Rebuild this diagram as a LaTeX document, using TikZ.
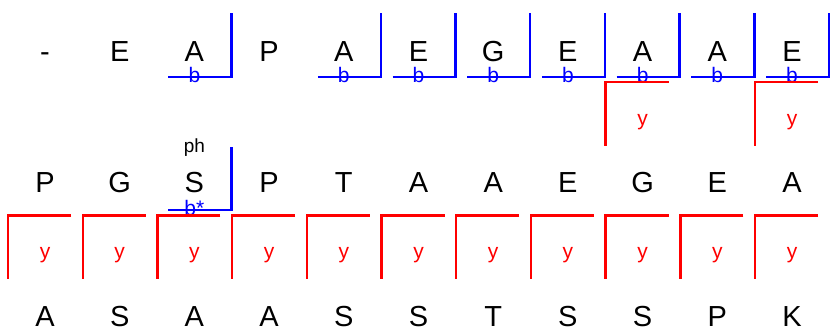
\documentclass[tikz,border=0pt]{standalone}
\usepackage{fontspec}
\setmainfont{Liberation Sans}
\usetikzlibrary{calc}
\tikzset{
  res/.style={anchor=base, inner sep=0pt, font=\fontsize{29}{29}\selectfont},
  ionb/.style={draw=blue, line width=2.4pt},
  iony/.style={draw=red, line width=2.4pt},
  lblb/.style={inner sep=0pt, text=blue, font=\fontsize{21}{21}\selectfont},
  lbly/.style={inner sep=0pt, text=red, font=\fontsize{21}{21}\selectfont},
  mod/.style={inner sep=0pt, font=\fontsize{19}{19}\selectfont}
}
\begin{document}
\begin{tikzpicture}[x=1pt, y=1pt]
    \useasboundingbox (0,0) rectangle (830,330);

    % 上段の配列
    \foreach \aa [count=\i] in {-,E,A,P,A,E,G,E,A,A,E}
      \node[res] (t\i) at ({45+74.7*(\i-1)}, 268.3) {\aa};

    % 中段の配列
    \foreach \aa [count=\i] in {P,G,S,P,T,A,A,E,G,E,A}
      \node[res] (m\i) at ({45+74.7*(\i-1)}, 137.5) {\aa};

    % 下段の配列
    \foreach \aa [count=\i] in {A,S,A,A,S,S,T,S,S,P,K}
      \node[res] (u\i) at ({45+74.7*(\i-1)}, 4) {\aa};

    % 上段の b イオン
    \foreach \i in {3,5,6,7,8,9,10,11} {
      \draw[ionb] ($(t\i.base)+(-26,-15.3)$) -- ++(63,0) -- ++(0,64);
      \node[lblb] (tb\i) at ($(t\i.base)+(0,-13.3)$) {b};
    }

    % 上段の y イオン
    \foreach \i in {9,11} {
      \draw[iony] ($(t\i.base)+(26,-20.3)$) -- ++(-63,0) -- ++(0,-64);
      \node[lbly] (ty\i) at ($(t\i.base)+(0,-60.3)$) {y};
    }

    % 中段の b* イオン (リン酸化)
    \node[mod] (ph) at ($(m3.base)+(0,44.5)$) {ph};
    \draw[ionb] ($(m3.base)+(-26,-17.5)$) -- ++(63,0) -- ++(0,63);
    \node[lblb] (mb3) at ($(m3.base)+(0,-15)$) {b*};

    % 中段の y イオン
    \foreach \i in {1,...,11} {
      \draw[iony] ($(m\i.base)+(26,-23)$) -- ++(-63,0) -- ++(0,-63.5);
      \node[lbly] (my\i) at ($(m\i.base)+(0,-62.5)$) {y};
    }
\end{tikzpicture}
\end{document}
